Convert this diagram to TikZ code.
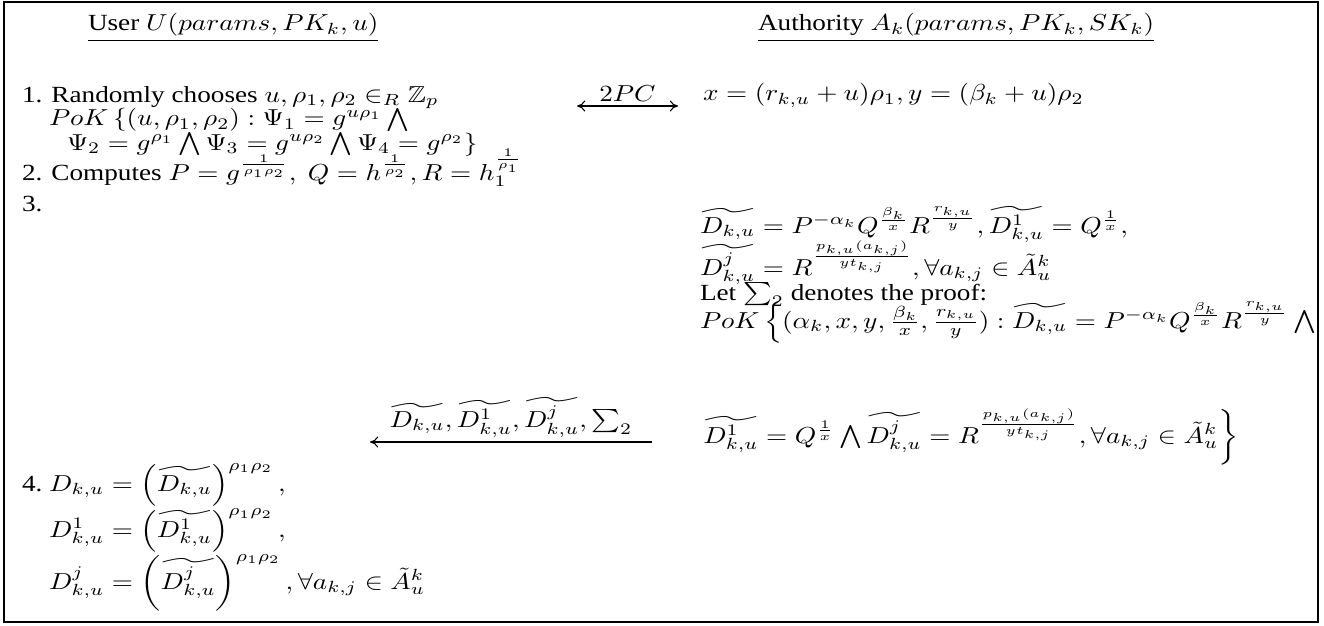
\documentclass[tikz,border=0pt]{standalone}
\usepackage{amsmath,amssymb,graphicx}
\usepackage[no-math]{fontspec}
\setmainfont{Liberation Serif}
\usetikzlibrary{arrows.meta}
\newcommand{\vsq}[1]{\scalebox{1}[0.85]{#1}}
\begin{document}
\begin{tikzpicture}[x=0.3676pt,y=-0.3676pt,
  txt/.style={anchor=base west, inner sep=0pt, outer sep=0pt},
  msg/.style={{To[length=3pt,width=4pt]}-{To[length=3pt,width=4pt]}, line width=0.4pt},
  msgl/.style={{To[length=3pt,width=4pt]}-, line width=0.4pt},
  lbl/.style={above, inner sep=1.5pt}]
\useasboundingbox (0,0) rectangle (1324,625);
\draw[line width=0.8pt] (4,2) rectangle (1318,622);
% headers
\node[txt] (hu) at (88,31) {\vsq{\underline{User $U(params,PK_k,u)$}}};
\node[txt] (ha) at (758,31) {\vsq{\underline{Authority $A_k(params,PK_k,SK_k)$}}};
% left column
\node[txt] (l1) at (22,102) {\vsq{1. Randomly chooses $u,\rho_1,\rho_2\in_R\mathbb{Z}_p$}};
\node[txt] (l2) at (49,126) {\vsq{$PoK\,\{(u,\rho_1,\rho_2):\Psi_1=g^{u\rho_1}\bigwedge$}};
\node[txt] (l3) at (67,150) {\vsq{$\Psi_2=g^{\rho_1}\bigwedge\Psi_3=g^{u\rho_2}\bigwedge\Psi_4=g^{\rho_2}\}$}};
\node[txt] (l4) at (22,180) {\vsq{2. Computes $P=g^{\frac{1}{\rho_1\rho_2}},\ Q=h^{\frac{1}{\rho_2}},R=h_1^{\frac{1}{\rho_1}}$}};
\node[txt] (l5) at (22,211) {\vsq{3.}};
% right column
\node[txt] (r1) at (703,101) {\vsq{$x=(r_{k,u}+u)\rho_1,y=(\beta_k+u)\rho_2$}};
\node[txt] (r2) at (700,233) {\vsq{$\widetilde{D_{k,u}}=P^{-\alpha_k}Q^{\frac{\beta_k}{x}}R^{\frac{r_{k,u}}{y}},\widetilde{D^1_{k,u}}=Q^{\frac{1}{x}},$}};
\node[txt] (r3) at (700,275) {\vsq{$\widetilde{D^j_{k,u}}=R^{\frac{p_{k,u}(a_{k,j})}{yt_{k,j}}},\forall a_{k,j}\in\tilde{A}^k_u$}};
\node[txt] (r4) at (700,300) {\vsq{Let $\sum_2$ denotes the proof:}};
\node[txt] (r5) at (700,328) {\vsq{$PoK\left\{(\alpha_k,x,y,\frac{\beta_k}{x},\frac{r_{k,u}}{y}):\widetilde{D_{k,u}}=P^{-\alpha_k}Q^{\frac{\beta_k}{x}}R^{\frac{r_{k,u}}{y}}\bigwedge\right.$}};
\node[txt] (r6) at (700,443) {\vsq{$\left.\widetilde{D^1_{k,u}}=Q^{\frac{1}{x}\rule[-2pt]{0pt}{0pt}}\bigwedge\widetilde{D^j_{k,u}}=R^{\frac{p_{k,u}(a_{k,j})}{yt_{k,j}}\rule[-4pt]{0pt}{0pt}},\forall a_{k,j}\in\tilde{A}^k_u\right\}$}};
% step 4
\coordinate (y537) at (0,537);
\coordinate (y589) at (0,589);
\node[txt] (l6) at (22,491) {\vsq{4.}};
\node[txt] (d1) at ([xshift=2.5pt]l6.base east) {\vsq{$D_{k,u}=\left(\widetilde{D_{k,u}}\right)^{\rho_1\rho_2},$}};
\node[txt] (d2) at (d1.base west |- y537) {\vsq{$D^1_{k,u}=\left(\widetilde{D^1_{k,u}}\right)^{\rho_1\rho_2},$}};
\node[txt] (d3) at (d1.base west |- y589) {\vsq{$D^j_{k,u}=\left(\widetilde{D^j_{k,u}}\right)^{\rho_1\rho_2},\forall a_{k,j}\in\tilde{A}^k_u$}};
% messages
\coordinate (a1) at (577,106);
\coordinate (a2) at (678,106);
\draw[msg] (a1) -- (a2) node[midway,lbl] {\vsq{$2PC$}};
\coordinate (b1) at (652,442);
\coordinate (b2) at (370,442);
\draw[msgl] (b2) -- (b1) node[midway,lbl] {\vsq{$\widetilde{D_{k,u}},\widetilde{D^1_{k,u}},\widetilde{D^j_{k,u}},\sum_2$}};
\end{tikzpicture}
\end{document}
